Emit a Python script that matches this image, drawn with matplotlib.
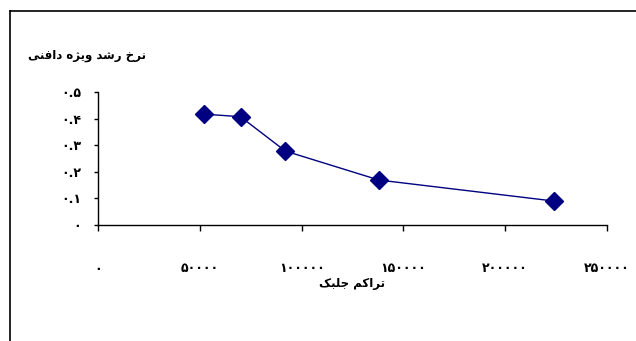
import matplotlib
matplotlib.use("Agg")
import matplotlib.pyplot as plt
from matplotlib.lines import Line2D
from matplotlib.ticker import FixedLocator, FuncFormatter

# algae density vs. specific growth rate of Daphnia
algae_density = [52000, 70000, 92000, 138000, 224000]
growth_rate = [0.417, 0.407, 0.278, 0.169, 0.090]

x_ticks = [0, 50000, 100000, 150000, 200000, 250000]
y_ticks = [0.0, 0.1, 0.2, 0.3, 0.4, 0.5]

y_title = "نرخ رشد ویژه دافنی"
x_title = "تراکم جلبک"

# presentation forms: (isolated, final[, initial, medial])
FORMS = {
    'ا': (0xFE8D, 0xFE8E),
    'ب': (0xFE8F, 0xFE90, 0xFE91, 0xFE92),
    'ت': (0xFE95, 0xFE96, 0xFE97, 0xFE98),
    'ج': (0xFE9D, 0xFE9E, 0xFE9F, 0xFEA0),
    'خ': (0xFEA5, 0xFEA6, 0xFEA7, 0xFEA8),
    'د': (0xFEA9, 0xFEAA),
    'ر': (0xFEAD, 0xFEAE),
    'ژ': (0xFB8A, 0xFB8B),
    'ش': (0xFEB5, 0xFEB6, 0xFEB7, 0xFEB8),
    'ف': (0xFED1, 0xFED2, 0xFED3, 0xFED4),
    'ک': (0xFB8E, 0xFB8F, 0xFB90, 0xFB91),
    'ل': (0xFEDD, 0xFEDE, 0xFEDF, 0xFEE0),
    'م': (0xFEE1, 0xFEE2, 0xFEE3, 0xFEE4),
    'ن': (0xFEE5, 0xFEE6, 0xFEE7, 0xFEE8),
    'ه': (0xFEE9, 0xFEEA, 0xFEEB, 0xFEEC),
    'و': (0xFEED, 0xFEEE),
    'ی': (0xFBFC, 0xFBFD, 0xFBFE, 0xFBFF),
}


def shape(text):
    # join letters and put them in visual (left-to-right) order
    out = []
    for i, ch in enumerate(text):
        if ch not in FORMS:
            out.append(ch)
            continue
        prev = text[i - 1] if i > 0 else ''
        nxt = text[i + 1] if i + 1 < len(text) else ''
        join_prev = prev in FORMS and len(FORMS[prev]) == 4
        join_next = len(FORMS[ch]) == 4 and nxt in FORMS
        f = FORMS[ch]
        if join_prev and join_next:
            out.append(chr(f[3]))
        elif join_prev:
            out.append(chr(f[1]))
        elif join_next:
            out.append(chr(f[2]))
        else:
            out.append(chr(f[0]))
    return ''.join(reversed(out))


def fa_digits(s):
    return s.translate(str.maketrans('0123456789', '۰۱۲۳۴۵۶۷۸۹'))


plt.rcParams['font.family'] = ['DejaVu Sans']

fig = plt.figure(figsize=(6.36, 3.41), dpi=100)
ax = fig.add_axes([98 / 636, 1 - 225 / 341, 509 / 636, 133 / 341])

ax.plot(algae_density, growth_rate, color='#000080', lw=1.0,
        marker='D', markersize=9, markerfacecolor='#000080',
        markeredgecolor='#000080')

ax.set_xlim(x_ticks[0], x_ticks[-1])
ax.set_ylim(y_ticks[0], y_ticks[-1])
ax.xaxis.set_major_locator(FixedLocator(x_ticks))
ax.yaxis.set_major_locator(FixedLocator(y_ticks))
ax.xaxis.set_major_formatter(FuncFormatter(lambda v, p: fa_digits(f"{int(v)}")))
ax.yaxis.set_major_formatter(
    FuncFormatter(lambda v, p: fa_digits("0" if v == 0 else f"{v:.1f}")))

for side in ['top', 'right']:
    ax.spines[side].set_visible(False)
for side in ['left', 'bottom']:
    ax.spines[side].set_linewidth(1.0)

ax.tick_params(axis='x', direction='out', length=4, width=1, pad=23,
               labelsize=9)
ax.tick_params(axis='y', direction='out', length=3, width=1, pad=9,
               labelsize=9)
for lbl in ax.get_xticklabels() + ax.get_yticklabels():
    lbl.set_fontweight('bold')

fig.text(87 / 636, 1 - 55 / 341, shape(y_title), ha='center', va='center',
         fontsize=8.5, fontweight='bold')
fig.text(352 / 636, 1 - 283 / 341, shape(x_title), ha='center', va='center',
         fontsize=8.5, fontweight='bold')

# chart area border
fig.add_artist(Line2D([10 / 636, 10 / 636], [0, 1 - 10.5 / 341],
                      transform=fig.transFigure, color='black', lw=1.2))
fig.add_artist(Line2D([10 / 636, 1], [1 - 10.5 / 341, 1 - 10.5 / 341],
                      transform=fig.transFigure, color='black', lw=1.2))

fig.savefig('out.png', dpi=100)
